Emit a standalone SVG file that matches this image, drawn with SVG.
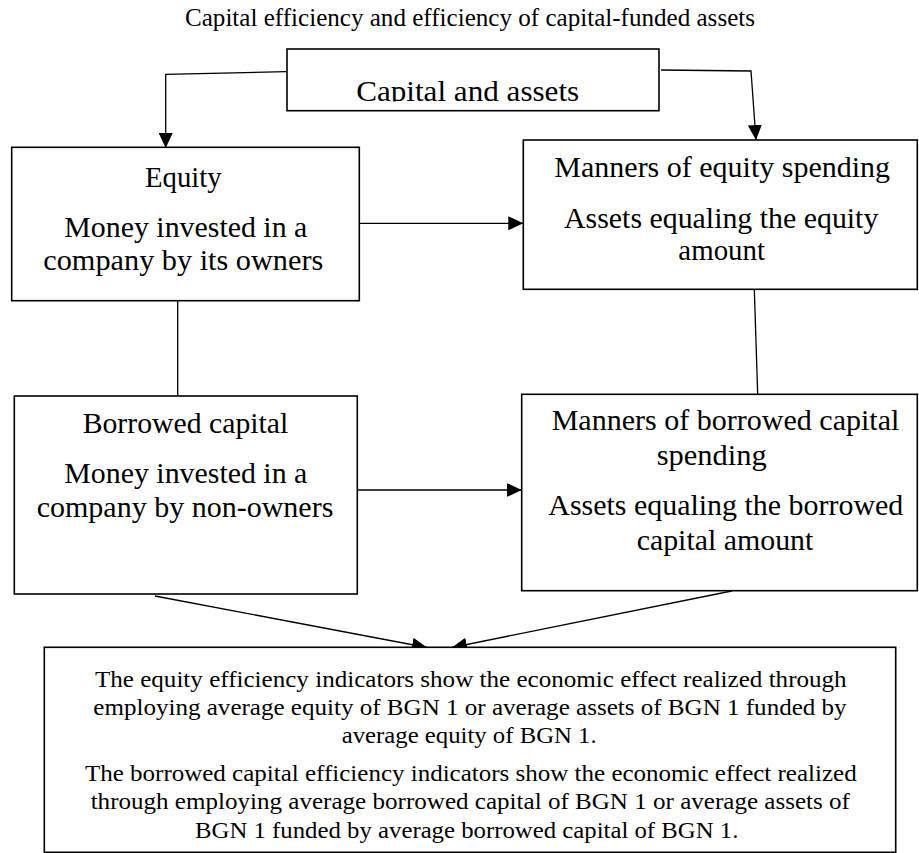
<svg xmlns="http://www.w3.org/2000/svg" width="919" height="853" viewBox="0 0 919 853">
  <style>
    .box { fill: #ffffff; stroke: #000000; stroke-width: 1.6; }
    .txt { font-family: 'Liberation Serif', 'Times New Roman', Times, serif; fill: #000000; text-anchor: middle; }
    .lg { font-size: 29px; }
    .md { font-size: 24px; }
    .ttl { font-size: 25px; }
    .con { fill: none; stroke: #000000; stroke-width: 1.3; }
  </style>
  <defs>
    <marker id="arrow" markerUnits="userSpaceOnUse" markerWidth="16" markerHeight="14" refX="15" refY="7" orient="auto">
      <path d="M0,0 L15,7 L0,14 Z" fill="#000000"/>
    </marker>
    <!-- the top label sits in a text frame that cuts off its descenders -->
    <clipPath id="capClip">
      <rect x="287" y="49" width="372" height="52.5"/>
    </clipPath>
  </defs>

  <rect x="0" y="0" width="919" height="853" fill="#ffffff"/>

  <!-- title -->
  <text class="txt ttl" x="470" y="26" textLength="570" lengthAdjust="spacingAndGlyphs">Capital efficiency and efficiency of capital-funded assets</text>

  <!-- connectors -->
  <g id="connectors">
    <polyline class="con" points="286,71.7 165.7,74.3 165.7,148" marker-end="url(#arrow)"/>
    <polyline class="con" points="661,70 751,71 756,140" marker-end="url(#arrow)"/>
    <line class="con" x1="359.3" y1="223.3" x2="523.3" y2="223.3" marker-end="url(#arrow)"/>
    <line class="con" x1="177.7" y1="301" x2="177.7" y2="396"/>
    <line class="con" x1="754.3" y1="289.3" x2="757.7" y2="394.3"/>
    <line class="con" x1="357.3" y1="490" x2="521.7" y2="490" marker-end="url(#arrow)"/>
    <line class="con" x1="155" y1="596" x2="427" y2="647.5" marker-end="url(#arrow)"/>
    <line class="con" x1="731.7" y1="591" x2="452" y2="647.5" marker-end="url(#arrow)"/>
  </g>

  <g id="capital-and-assets">
    <rect class="box" x="287" y="49" width="372" height="61.7"/>
    <text class="txt lg" x="467.7" y="100.5" textLength="223" lengthAdjust="spacingAndGlyphs" clip-path="url(#capClip)">Capital and assets</text>
  </g>

  <g id="equity">
    <rect class="box" x="11.7" y="147.3" width="347.6" height="153.4"/>
    <text class="txt lg" x="183.3" y="186.7" textLength="76.7" lengthAdjust="spacingAndGlyphs">Equity</text>
    <text class="txt lg" x="185.8" y="236.7" textLength="243" lengthAdjust="spacingAndGlyphs">Money invested in a</text>
    <text class="txt lg" x="183.3" y="270" textLength="280" lengthAdjust="spacingAndGlyphs">company by its owners</text>
  </g>

  <g id="equity-spending">
    <rect class="box" x="523.3" y="140" width="394" height="149.3"/>
    <text class="txt lg" x="722.2" y="176.7" textLength="335.7" lengthAdjust="spacingAndGlyphs">Manners of equity spending</text>
    <text class="txt lg" x="721.2" y="228.3" textLength="314.3" lengthAdjust="spacingAndGlyphs">Assets equaling the equity</text>
    <text class="txt lg" x="721.7" y="260" textLength="86.7" lengthAdjust="spacingAndGlyphs">amount</text>
  </g>

  <g id="borrowed-capital">
    <rect class="box" x="14.3" y="396" width="343" height="198"/>
    <text class="txt lg" x="185.5" y="433.3" textLength="205.7" lengthAdjust="spacingAndGlyphs">Borrowed capital</text>
    <text class="txt lg" x="185.8" y="483.3" textLength="243" lengthAdjust="spacingAndGlyphs">Money invested in a</text>
    <text class="txt lg" x="185" y="516.7" textLength="296.7" lengthAdjust="spacingAndGlyphs">company by non-owners</text>
  </g>

  <g id="borrowed-spending">
    <rect class="box" x="521.7" y="394.3" width="395.6" height="196.4"/>
    <text class="txt lg" x="725.5" y="430" textLength="347.7" lengthAdjust="spacingAndGlyphs">Manners of borrowed capital</text>
    <text class="txt lg" x="711.7" y="465" textLength="110" lengthAdjust="spacingAndGlyphs">spending</text>
    <text class="txt lg" x="725.8" y="515" textLength="355" lengthAdjust="spacingAndGlyphs">Assets equaling the borrowed</text>
    <text class="txt lg" x="725" y="550" textLength="176.7" lengthAdjust="spacingAndGlyphs">capital amount</text>
  </g>

  <g id="efficiency-indicators">
    <rect class="box" x="44.3" y="647.3" width="851.4" height="205"/>
    <text class="txt md" x="470.8" y="686.7" textLength="751.7" lengthAdjust="spacingAndGlyphs">The equity efficiency indicators show the economic effect realized through</text>
    <text class="txt md" x="470" y="715" textLength="753.3" lengthAdjust="spacingAndGlyphs">employing average equity of BGN 1 or average assets of BGN 1 funded by</text>
    <text class="txt md" x="469.2" y="743.3" textLength="255" lengthAdjust="spacingAndGlyphs">average equity of BGN 1.</text>
    <text class="txt md" x="470.8" y="780.7" textLength="771.7" lengthAdjust="spacingAndGlyphs">The borrowed capital efficiency indicators show the economic effect realized</text>
    <text class="txt md" x="470.3" y="809.3" textLength="759.3" lengthAdjust="spacingAndGlyphs">through employing average borrowed capital of BGN 1 or average assets of</text>
    <text class="txt md" x="466.7" y="837.7" textLength="543.3" lengthAdjust="spacingAndGlyphs">BGN 1 funded by average borrowed capital of BGN 1.</text>
  </g>
</svg>
